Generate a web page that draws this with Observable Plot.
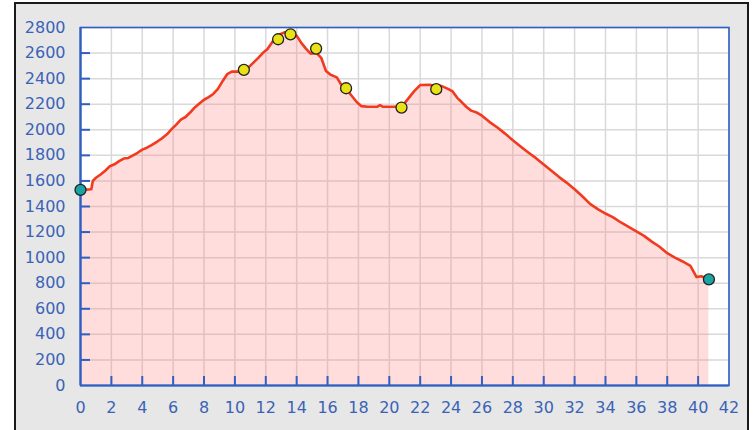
<!DOCTYPE html>
<html>
<head>
<meta charset="utf-8">
<script src="https://cdn.jsdelivr.net/npm/d3@7"></script>
<script src="https://cdn.jsdelivr.net/npm/@observablehq/plot@0.6"></script>
<style>
  html, body { margin: 0; padding: 0; background: #ffffff; }
  #wrap { position: relative; width: 756px; height: 430px; overflow: hidden; }
  #panel { position: absolute; left: 14px; top: 2px; width: 735px; height: 440px;
           background: #e7e7e7; border-left: 2px solid #1a1a1a; border-top: 2px solid #1a1a1a;
           border-right: 2px solid #1a1a1a; box-sizing: border-box; }
  #chart { position: absolute; left: 0; top: 0; }
</style>
</head>
<body>
<div id="wrap"><div id="panel"></div><div id="chart"></div></div>
<script>
// Elevation profile: distance (km) and elevation (m)
const dist = [0, 0.7, 0.8, 1.0, 1.3, 1.6, 1.9, 2.2, 2.5, 2.8, 3.1, 3.4, 3.7, 4.0, 4.3, 4.6, 5.0, 5.3, 5.6, 5.9,
  6.2, 6.5, 6.8, 7.1, 7.4, 7.7, 8.0, 8.3, 8.6, 8.9, 9.2, 9.5, 9.8, 10.2, 10.6, 10.9, 11.2, 11.5, 11.8, 12.1,
  12.5, 12.9, 13.2, 13.7, 14.0, 14.3, 14.6, 14.9, 15.3, 15.6, 15.9, 16.2, 16.6, 16.9, 17.2, 17.6, 17.9, 18.2,
  18.6, 19.2, 19.4, 19.6, 20.2, 20.8, 21.2, 21.6, 22.0, 22.6, 23.0, 23.4, 23.8, 24.1, 24.4, 24.7, 25.0, 25.3,
  25.7, 26.0, 26.5, 27.0, 27.5, 28.0, 28.5, 29.0, 29.5, 30.0, 30.5, 31.0, 31.5, 32.0, 32.5, 33.0, 33.5, 34.0,
  34.5, 35.0, 35.5, 36.0, 36.5, 37.0, 37.5, 38.0, 38.5, 39.0, 39.5, 39.9, 40.2, 40.7];
const elev = [1530, 1535, 1600, 1625, 1650, 1680, 1715, 1730, 1755, 1775, 1780, 1800, 1820, 1845, 1860, 1880, 1910, 1935, 1965, 2005,
  2040, 2080, 2100, 2135, 2175, 2205, 2235, 2255, 2280, 2320, 2380, 2435, 2455, 2455, 2460, 2490, 2525, 2560, 2600, 2630,
  2700, 2745, 2762, 2762, 2735, 2680, 2635, 2595, 2600, 2560, 2460, 2430, 2410, 2350, 2320, 2260, 2215, 2185,
  2180, 2180, 2193, 2180, 2180, 2180, 2240, 2300, 2350, 2352, 2345, 2342, 2320, 2300, 2250, 2215, 2178, 2150,
  2133, 2110, 2060, 2018, 1970, 1918, 1870, 1822, 1778, 1728, 1680, 1630, 1585, 1535, 1480, 1420, 1380, 1345,
  1315, 1275, 1240, 1205, 1170, 1125, 1085, 1035, 1000, 970, 935, 848, 855, 832];

// Waypoints (yellow) and start / end (teal)
const wayDist = [10.58, 12.8, 13.6, 15.26, 17.2, 20.79, 23.04];
const wayElev = [2469, 2708, 2747, 2635, 2325, 2174, 2318];
const endDist = [0, 40.7];
const endElev = [1530, 830];

// Ticks
const xLabels = [0, 2, 4, 6, 8, 10, 12, 14, 16, 18, 20, 22, 24, 26, 28, 30, 32, 34, 36, 38, 40, 42];
const xTickMarks = [2, 4, 6, 8, 10, 12, 14, 16, 18, 20, 22, 24, 26, 28, 30, 32, 34, 36, 38, 40];
const yLabels = [0, 200, 400, 600, 800, 1000, 1200, 1400, 1600, 1800, 2000, 2200, 2400, 2600, 2800];
const yTickMarks = [200, 400, 600, 800, 1000, 1200, 1400, 1600, 1800, 2000, 2200, 2400, 2600];

const profile = dist.map((d, i) => ({d, e: elev[i]}));
const ways = wayDist.map((d, i) => ({d, e: wayElev[i]}));
const ends = endDist.map((d, i) => ({d, e: endElev[i]}));

const blue = "#2f5fc2";
const labelBlue = "#3a63b6";

const chart = Plot.plot({
  width: 756,
  height: 430,
  marginLeft: 80,
  marginRight: 27.5,
  marginTop: 27,
  marginBottom: 45,
  style: {background: "transparent", fontFamily: "DejaVu Sans, Verdana, sans-serif", fontSize: "16px"},
  x: {domain: [0, 42]},
  y: {domain: [0, 2800]},
  marks: [
    Plot.frame({fill: "white"}),
    Plot.gridX(xLabels, {stroke: "#d9d9d9", strokeOpacity: 1, strokeWidth: 1.5}),
    Plot.gridY(yLabels, {stroke: "#d9d9d9", strokeOpacity: 1, strokeWidth: 1.5}),
    Plot.areaY(profile, {x: "d", y: "e", fill: "#ff7a7a", fillOpacity: 0.26}),
    Plot.line(profile, {x: "d", y: "e", stroke: "#f23a1e", strokeWidth: 2.6}),
    Plot.frame({stroke: blue, strokeWidth: 1.6}),
    Plot.ruleX([0], {stroke: blue, strokeWidth: 2.2}),
    Plot.ruleY([0], {stroke: blue, strokeWidth: 2.2}),
    Plot.axisY({ticks: yTickMarks, tickSize: 10, dx: 10, fill: "none", stroke: blue, strokeWidth: 2, label: null}),
    Plot.axisX({ticks: xTickMarks, tickSize: 9, dy: -9, fill: "none", stroke: blue, strokeWidth: 2, label: null}),
    Plot.axisY({ticks: yLabels, tickSize: 0, tickPadding: 15, fill: labelBlue, tickFormat: d => String(d), label: null}),
    Plot.axisX({ticks: xLabels, tickSize: 0, tickPadding: 16, fill: labelBlue, tickFormat: d => String(d), label: null}),
    Plot.dot(ways, {x: "d", y: "e", r: 5.5, fill: "#e9e214", stroke: "#222", strokeWidth: 1.3}),
    Plot.dot(ends, {x: "d", y: "e", r: 5.5, fill: "#1aa5a5", stroke: "#222", strokeWidth: 1.3})
  ]
});
document.getElementById("chart").appendChild(chart);
</script>
</body>
</html>
